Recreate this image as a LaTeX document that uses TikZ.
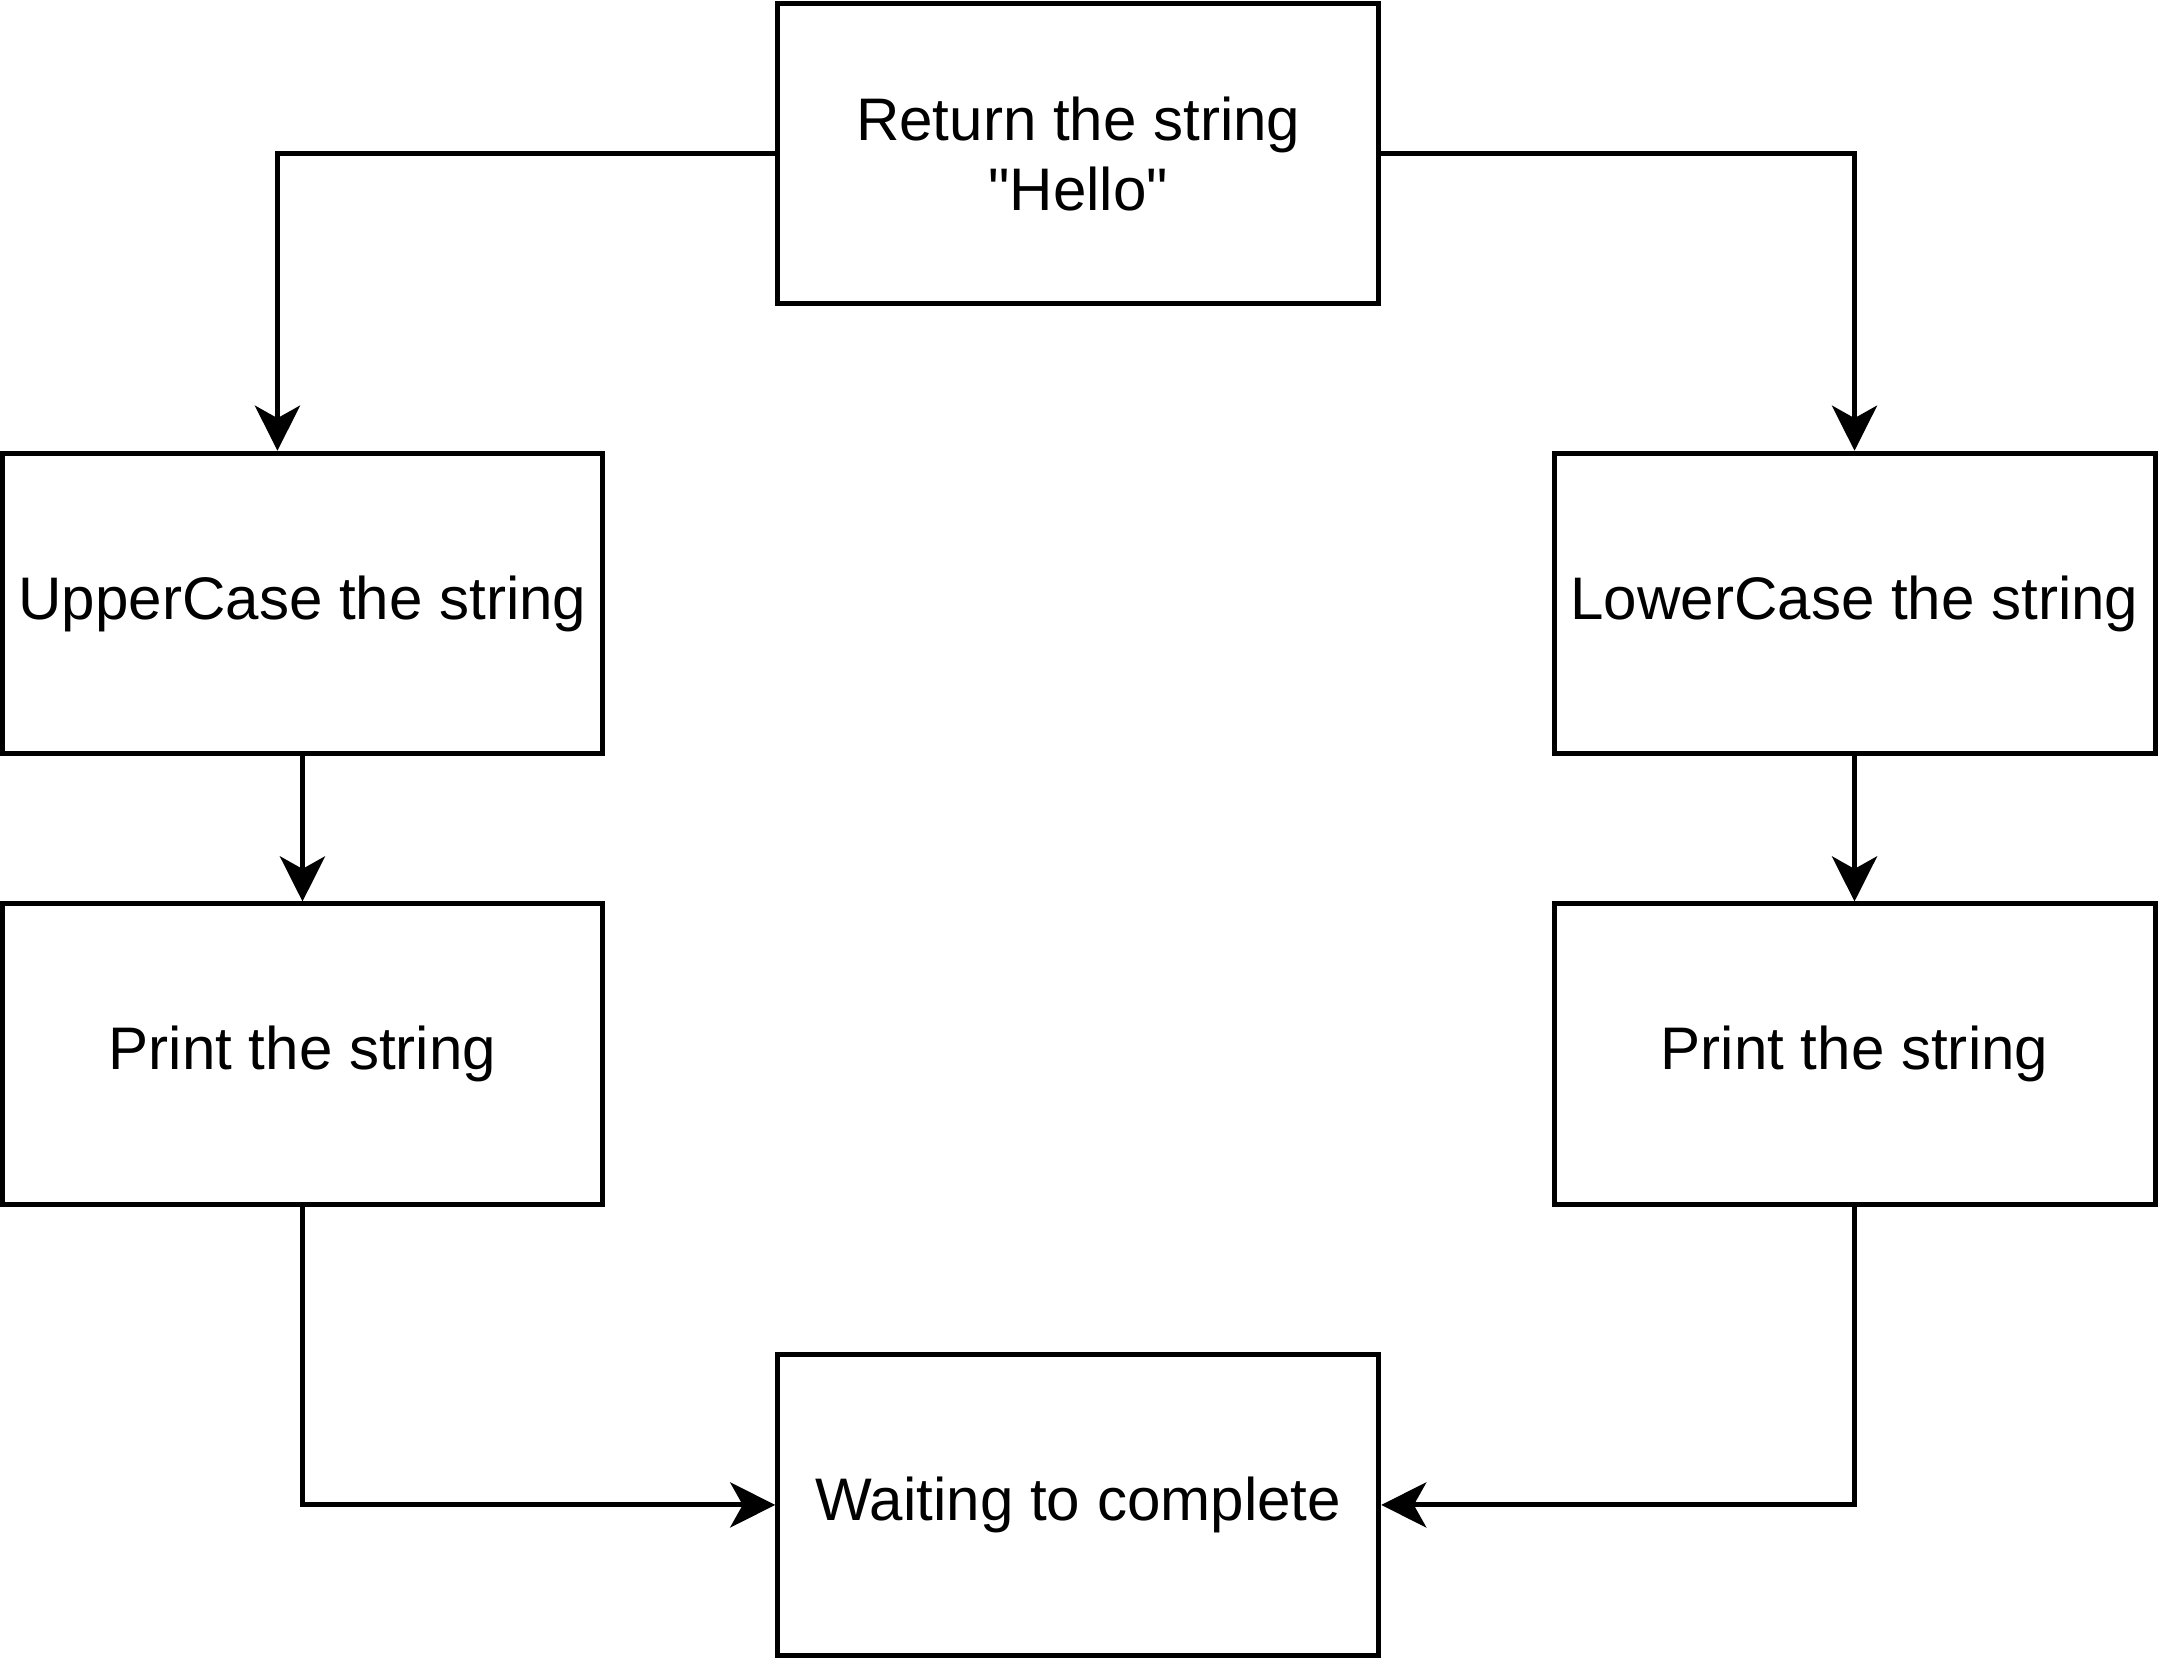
\documentclass[tikz,border=0pt]{standalone}
\usepackage{fontspec}
\setmainfont{Liberation Sans}[Ligatures=TeXOff]
\usetikzlibrary{arrows.meta}
\begin{document}
\begin{tikzpicture}[x=1pt,y=1pt,
  box/.style={draw, line width=1pt, minimum width=120pt, minimum height=60pt,
    inner sep=0pt, align=center, font=\fontsize{12}{14}\selectfont, anchor=north west},
  conn/.style={line width=1pt, -{Stealth[length=9pt,width=9pt,inset=2.5pt]}}]
\useasboundingbox (0,0) rectangle (431.3,-331.4);
\node[box] (ret) at (154.8,-0.2) {Return the string\\"Hello"};
\node[box] (up) at (-0.1,-90.0) {UpperCase the string};
\node[box] (lo) at (309.8,-90.0) {LowerCase the string};
\node[box] (pl) at (-0.1,-180.0) {Print the string};
\node[box] (pr) at (309.8,-180.0) {Print the string};
\node[box] (wt) at (154.8,-270.0) {Waiting to complete};
\draw[conn] (ret.west) -| ([xshift=-5pt]up.north);
\draw[conn] (ret.east) -| (lo.north);
\draw[conn] (up.south) -- (pl.north);
\draw[conn] (lo.south) -- (pr.north);
\draw[conn] (pl.south) |- (wt.west);
\draw[conn] (pr.south) |- (wt.east);
\end{tikzpicture}
\end{document}
